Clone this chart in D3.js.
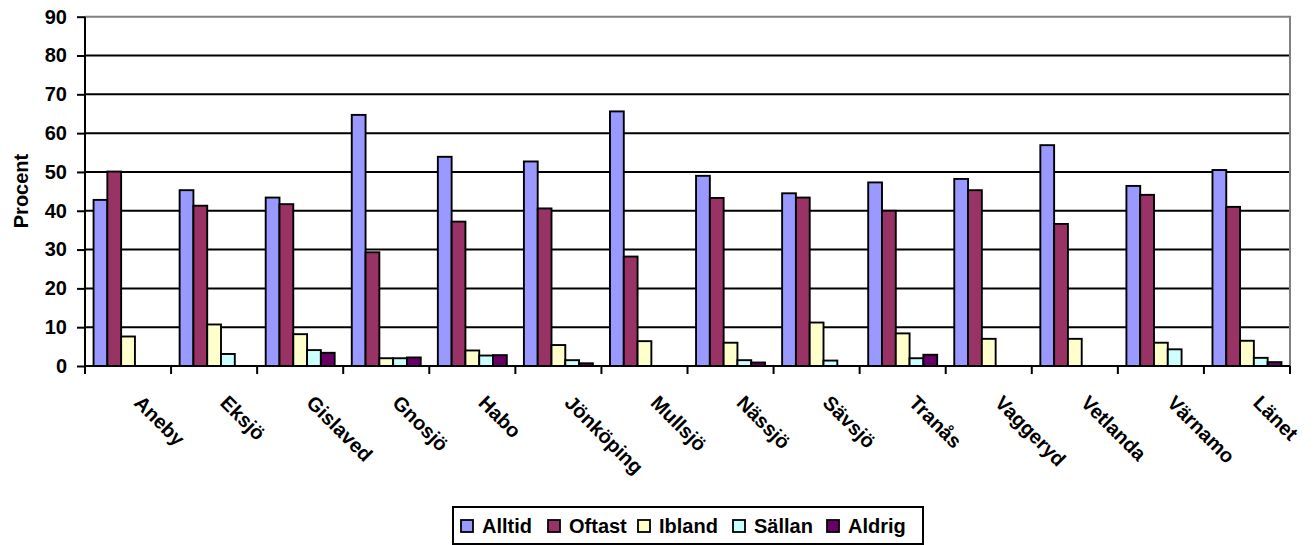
<!DOCTYPE html>
<html>
<head>
<meta charset="utf-8">
<script src="https://cdn.jsdelivr.net/npm/d3@7"></script>
<style>
    body { margin: 0; background: #fff; }
    svg { display: block; font-family: "Liberation Sans", Arial, sans-serif; font-weight: bold; }
</style>
</head>
<body>
<svg id="chart" width="1314" height="545"></svg>
<script>
    var kommuner = ["Aneby", "Eksjö", "Gislaved", "Gnosjö", "Habo", "Jönköping", "Mullsjö",
        "Nässjö", "Sävsjö", "Tranås", "Vaggeryd", "Vetlanda", "Värnamo", "Länet"];

    var serier = ["Alltid", "Oftast", "Ibland", "Sällan", "Aldrig"];
    var farger = ["#9999ff", "#993366", "#ffffcc", "#ccffff", "#660066"];

    var alltid = [42.8, 45.3, 43.4, 64.7, 53.9, 52.7, 65.6, 49.0, 44.5, 47.3, 48.2, 56.9, 46.4, 50.5];
    var oftast = [50.1, 41.3, 41.7, 29.3, 37.2, 40.6, 28.2, 43.3, 43.4, 40.0, 45.3, 36.6, 44.1, 41.0];
    var ibland = [7.6, 10.7, 8.2, 2.0, 4.0, 5.4, 6.4, 6.0, 11.2, 8.4, 7.0, 7.0, 6.0, 6.5];
    var sallan = [0, 3.1, 4.1, 2.0, 2.7, 1.5, 0, 1.5, 1.4, 2.0, 0, 0, 4.3, 2.1];
    var aldrig = [0, 0, 3.4, 2.2, 2.8, 0.7, 0, 0.9, 0, 2.9, 0, 0, 0, 1.0];

    var yTicks = [0, 10, 20, 30, 40, 50, 60, 70, 80, 90];

    var values = [alltid, oftast, ibland, sallan, aldrig];

    var plot = { left: 85, right: 1290, top: 16.7, bottom: 366 };
    var fontSize = "20px";

    var svg = d3.select("#chart");

    var x0 = d3.scaleBand()
        .domain(kommuner)
        .range([plot.left, plot.right])
        .padding(0);

    var x1 = d3.scaleBand()
        .domain(serier)
        .range([0, x0.bandwidth()])
        .paddingInner(0)
        .paddingOuter(0.62);

    var y = d3.scaleLinear()
        .domain([0, 90])
        .range([plot.bottom, plot.top]);

    // gridlines
    svg.append("g")
        .selectAll("line")
        .data(yTicks.filter(function(d) { return d > 0 && d < 90; }))
        .enter()
        .append("line")
        .attr("x1", plot.left)
        .attr("x2", plot.right)
        .attr("y1", function(d) { return y(d); })
        .attr("y2", function(d) { return y(d); })
        .attr("stroke", "#000")
        .attr("stroke-width", 2);

    // plot border (top & right, gray)
    svg.append("path")
        .attr("d", "M" + plot.left + "," + y(90) + "H" + plot.right + "V" + plot.bottom)
        .attr("fill", "none")
        .attr("stroke", "#808080")
        .attr("stroke-width", 2);

    // bars
    var groups = svg.append("g")
        .selectAll("g")
        .data(kommuner)
        .enter()
        .append("g")
        .attr("transform", function(d) { return "translate(" + x0(d) + ",0)"; });

    groups.selectAll("rect")
        .data(function(k, i) {
            return serier.map(function(s, j) { return { serie: s, idx: j, value: values[j][i] }; })
                .filter(function(d) { return d.value > 0; });
        })
        .enter()
        .append("rect")
        .attr("x", function(d) { return x1(d.serie); })
        .attr("width", x1.bandwidth())
        .attr("y", function(d) { return y(d.value); })
        .attr("height", function(d) { return y(0) - y(d.value); })
        .attr("fill", function(d) { return farger[d.idx]; })
        .attr("stroke", "#000")
        .attr("stroke-width", 1.9);

    // y axis
    var yAxis = svg.append("g")
        .attr("transform", "translate(" + plot.left + ",0)")
        .call(d3.axisLeft(y).tickValues(yTicks).tickSize(8).tickPadding(10));

    yAxis.select(".domain").attr("stroke", "#000").attr("stroke-width", 2)
        .attr("d", "M0," + plot.top + "V" + plot.bottom);
    yAxis.selectAll(".tick line").attr("stroke", "#000").attr("stroke-width", 2);
    yAxis.selectAll(".tick text")
        .attr("fill", "#000")
        .style("font-size", fontSize)
        .style("font-weight", "bold")
        .style("font-family", "Liberation Sans, Arial, sans-serif");

    // x axis
    var xAxis = svg.append("g")
        .attr("transform", "translate(0," + plot.bottom + ")");

    xAxis.append("line")
        .attr("x1", plot.left)
        .attr("x2", plot.right)
        .attr("stroke", "#000")
        .attr("stroke-width", 2);

    xAxis.selectAll(".tk")
        .data(kommuner.concat(["__end"]))
        .enter()
        .append("line")
        .attr("class", "tk")
        .attr("x1", function(d) { return d === "__end" ? plot.right : x0(d); })
        .attr("x2", function(d) { return d === "__end" ? plot.right : x0(d); })
        .attr("y1", 0)
        .attr("y2", 8)
        .attr("stroke", "#000")
        .attr("stroke-width", 2);

    xAxis.selectAll(".lbl")
        .data(kommuner)
        .enter()
        .append("text")
        .attr("class", "lbl")
        .attr("transform", function(d) {
            return "translate(" + (x0(d) + x0.bandwidth() / 2 + 5) + ",38) rotate(45)";
        })
        .attr("text-anchor", "start")
        .style("font-size", fontSize)
        .text(function(d) { return d; });

    // y label
    svg.append("text")
        .attr("transform", "translate(28,191) rotate(-90)")
        .attr("text-anchor", "middle")
        .style("font-size", fontSize)
        .text("Procent");

    // legend
    var legend = svg.append("g");

    legend.append("rect")
        .attr("x", 453)
        .attr("y", 507)
        .attr("width", 470)
        .attr("height", 37)
        .attr("fill", "#fff")
        .attr("stroke", "#000")
        .attr("stroke-width", 2);

    var legendX = [461, 548, 638, 733, 827];

    var items = legend.selectAll(".item")
        .data(serier)
        .enter()
        .append("g")
        .attr("class", "item")
        .attr("transform", function(d, i) { return "translate(" + legendX[i] + ",520)"; });

    items.append("rect")
        .attr("width", 12)
        .attr("height", 12)
        .attr("fill", function(d, i) { return farger[i]; })
        .attr("stroke", "#000")
        .attr("stroke-width", 1.8);

    items.append("text")
        .attr("x", 21)
        .attr("y", 13)
        .style("font-size", fontSize)
        .text(function(d) { return d; });
</script>
</body>
</html>
